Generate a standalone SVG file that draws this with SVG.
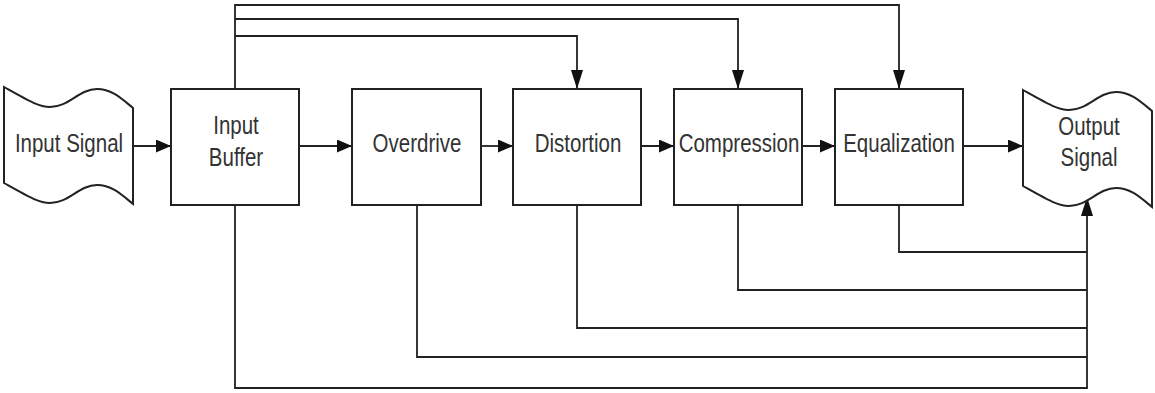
<svg xmlns="http://www.w3.org/2000/svg" width="1155" height="393" viewBox="0 0 1155 393">
  <style>
    .shape { fill: #ffffff; stroke: #222222; stroke-width: 2; }
    .lbl { font-family: "Liberation Sans", Arial, sans-serif; font-size: 20.5px; fill: #333333; text-anchor: middle; }
    .conn { fill: none; stroke: #222222; stroke-width: 1.8; }
  </style>
  <defs>
    <marker id="ah" markerUnits="userSpaceOnUse" markerWidth="15" markerHeight="13" refX="15" refY="6.5" orient="auto">
      <path d="M0,0 L15,6.5 L0,13 Z" fill="#111111"/>
    </marker>
    <marker id="av" markerUnits="userSpaceOnUse" markerWidth="19" markerHeight="12" refX="19" refY="6" orient="auto">
      <path d="M0,0 L19,6 L0,12 Z" fill="#111111"/>
    </marker>
    <path id="tape" d="M0,0 C25,14 35,20 46,20 C65,20 75,2 93,2 C108,2 118,12 129,21 L129,117 C118,108 108,98 93,98 C75,98 65,116 46,116 C35,116 25,110 0,96 Z"/>
  </defs>

  <g id="connectors">
    <!-- main chain -->
    <line class="conn" x1="133" y1="146" x2="171" y2="146" marker-end="url(#ah)"/>
    <line class="conn" x1="299" y1="146" x2="352" y2="146" marker-end="url(#ah)"/>
    <line class="conn" x1="481" y1="146" x2="513" y2="146" marker-end="url(#ah)"/>
    <line class="conn" x1="641" y1="146" x2="674" y2="146" marker-end="url(#ah)"/>
    <line class="conn" x1="802" y1="146" x2="835" y2="146" marker-end="url(#ah)"/>
    <line class="conn" x1="963" y1="146" x2="1023" y2="146" marker-end="url(#ah)"/>
    <!-- top bypasses from Input Buffer -->
    <polyline class="conn" points="235,89 235,5 899,5 899,89" marker-end="url(#av)"/>
    <polyline class="conn" points="235,19 738,19 738,89" marker-end="url(#av)"/>
    <polyline class="conn" points="235,36 577,36 577,89" marker-end="url(#av)"/>
    <!-- bottom returns to Output Signal -->
    <polyline class="conn" points="899,205 899,252 1087,252"/>
    <polyline class="conn" points="738,205 738,290 1087,290"/>
    <polyline class="conn" points="577,205 577,328 1087,328"/>
    <polyline class="conn" points="417,205 417,357 1087,357"/>
    <polyline class="conn" points="235,205 235,388 1087,388 1087,197" marker-end="url(#av)"/>
  </g>

  <g id="input-signal">
    <use href="#tape" class="shape" transform="translate(4,87)"/>
    <text class="lbl" transform="translate(69,152) scale(1,1.23)">Input Signal</text>
  </g>

  <g id="input-buffer">
    <rect class="shape" x="171" y="89" width="128" height="116"/>
    <text class="lbl" transform="translate(236,133.5) scale(1,1.23)">Input</text>
    <text class="lbl" transform="translate(236,165.5) scale(1,1.23)">Buffer</text>
  </g>

  <g id="overdrive">
    <rect class="shape" x="352" y="89" width="129" height="116"/>
    <text class="lbl" transform="translate(417,152) scale(1,1.23)">Overdrive</text>
  </g>

  <g id="distortion">
    <rect class="shape" x="513" y="89" width="128" height="116"/>
    <text class="lbl" transform="translate(578,152) scale(1,1.23)">Distortion</text>
  </g>

  <g id="compression">
    <rect class="shape" x="674" y="89" width="128" height="116"/>
    <text class="lbl" transform="translate(739,152) scale(1,1.23)">Compression</text>
  </g>

  <g id="equalization">
    <rect class="shape" x="835" y="89" width="128" height="116"/>
    <text class="lbl" transform="translate(899,152) scale(1,1.23)">Equalization</text>
  </g>

  <g id="output-signal">
    <use href="#tape" class="shape" transform="translate(1023,90)"/>
    <text class="lbl" transform="translate(1089,135) scale(1,1.23)">Output</text>
    <text class="lbl" transform="translate(1089,166) scale(1,1.23)">Signal</text>
  </g>
</svg>
